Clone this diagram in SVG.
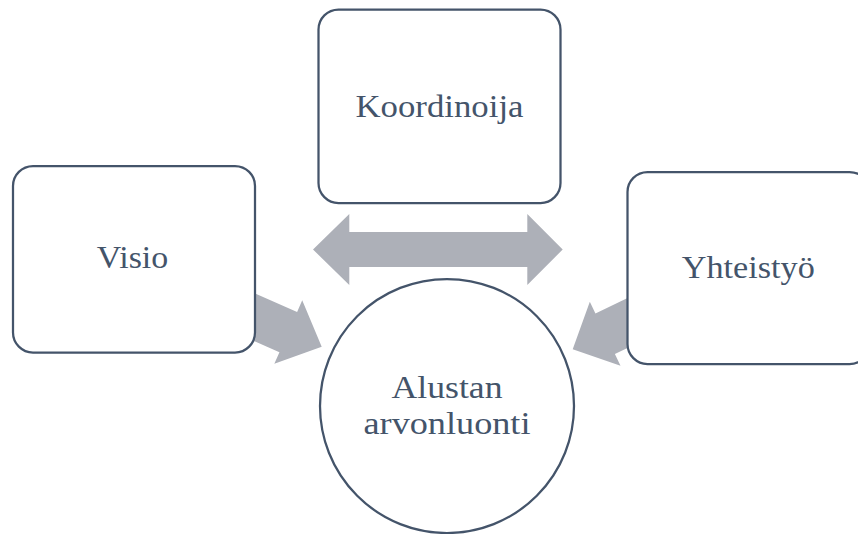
<svg xmlns="http://www.w3.org/2000/svg" width="858" height="534" viewBox="0 0 858 534">
<style>
.arrow{fill:#adb0b8;stroke:none}
.box{fill:#ffffff;stroke:#44546a;stroke-width:2.25}
.lbl{font-family:"Liberation Serif","Times New Roman",serif;font-size:32px;fill:#44546a;text-anchor:middle}
</style>
<rect width="858" height="534" fill="#ffffff"/>
<g id="connectors">
<polygon class="arrow" points="313,249.5 349.3,214 349.3,232 527.3,232 527.3,214 562.7,249.5 527.3,285 527.3,267 349.3,267 349.3,285"/>
<polygon class="arrow" transform="translate(321.7,346.7) rotate(23.7)" points="0,0 -36.5,-34.7 -36.5,-22 -90,-22 -90,22 -36.5,22 -36.5,34.7"/>
<polygon class="arrow" transform="translate(572.7,349.3) rotate(154.4)" points="0,0 -36,-35.5 -36,-22.5 -90,-22.5 -90,22.5 -36,22.5 -36,35.5"/>
</g>
<g id="koordinoija">
<rect class="box" x="318.5" y="9.5" width="242" height="193.5" rx="20"/>
<text class="lbl" x="439.5" y="116.7" textLength="168" lengthAdjust="spacingAndGlyphs">Koordinoija</text>
</g>
<g id="visio">
<rect class="box" x="13" y="166" width="242" height="186.5" rx="20"/>
<text class="lbl" x="132.5" y="268.3" textLength="71.5" lengthAdjust="spacingAndGlyphs">Visio</text>
</g>
<g id="yhteistyo">
<rect class="box" x="627.5" y="172" width="242" height="192" rx="20"/>
<text class="lbl" x="748.3" y="278.3" textLength="133" lengthAdjust="spacingAndGlyphs">Yhteistyö</text>
</g>
<g id="alustan-arvonluonti">
<circle class="box" cx="447" cy="406" r="127"/>
<text class="lbl" x="447" y="398" textLength="111" lengthAdjust="spacingAndGlyphs">Alustan</text>
<text class="lbl" x="447" y="434" textLength="167" lengthAdjust="spacingAndGlyphs">arvonluonti</text>
</g>
</svg>
